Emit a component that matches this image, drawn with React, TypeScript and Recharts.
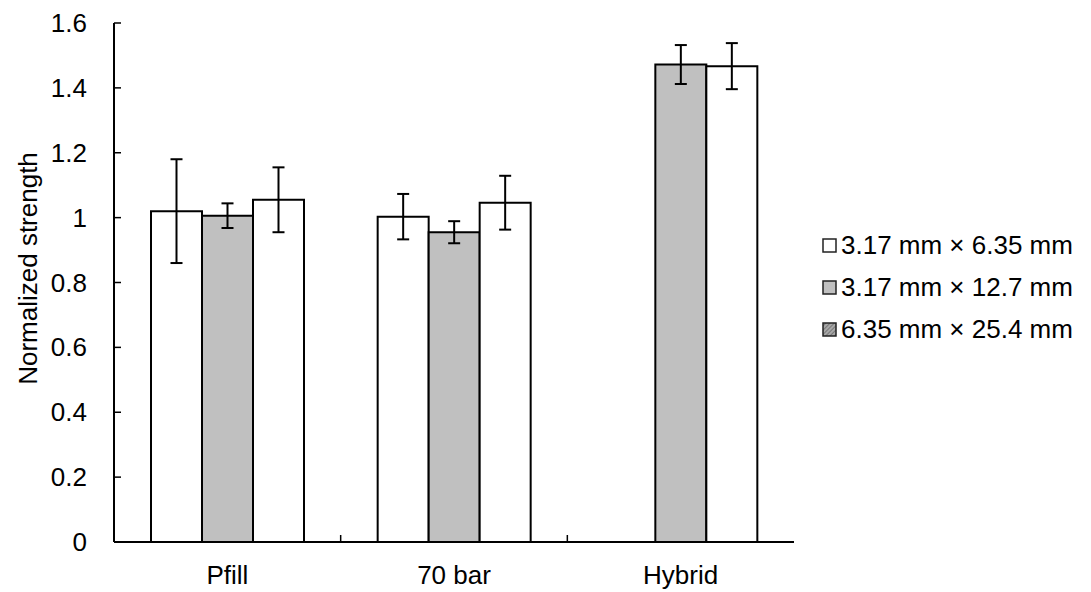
import React from 'react';
import {
  BarChart,
  Bar,
  XAxis,
  YAxis,
  ErrorBar,
  Legend,
} from 'recharts';

const categories = ['Pfill', '70 bar', 'Hybrid'];
const seriesNames = ['3.17 mm × 6.35 mm', '3.17 mm × 12.7 mm', '6.35 mm × 25.4 mm'];
const small = [1.02, 1.003, null];
const smallErr = [0.16, 0.07, null];
const medium = [1.006, 0.955, 1.472];
const mediumErr = [0.038, 0.034, 0.06];
const large = [1.055, 1.046, 1.467];
const largeErr = [0.1, 0.083, 0.071];
const yTicks = [0, 0.2, 0.4, 0.6, 0.8, 1, 1.2, 1.4, 1.6];

const data = categories.map((name, i) => ({
  name,
  small: small[i],
  smallErr: smallErr[i],
  medium: medium[i],
  mediumErr: mediumErr[i],
  large: large[i],
  largeErr: largeErr[i],
}));

const WIDTH = 1091;
const HEIGHT = 592;
const PLOT_LEFT = 114;
const PLOT_RIGHT = 794;
const BAND = (PLOT_RIGHT - PLOT_LEFT) / categories.length;
const FONT = 'Liberation Sans, Arial, sans-serif';
const FS = 26;

const YTick = (props: any) => {
  const { x, y, payload } = props;
  return (
    <g>
      <line x1={x} y1={y} x2={x + 7} y2={y} stroke="#000" strokeWidth={1.5} />
      <text
        x={x - 27}
        y={y}
        textAnchor="end"
        dominantBaseline="central"
        fontSize={FS}
        fontFamily={FONT}
        fill="#000"
      >
        {payload.value}
      </text>
    </g>
  );
};

const XTick = (props: any) => {
  const { x, y, payload, index } = props;
  const edge = x + BAND / 2;
  return (
    <g>
      {index < categories.length - 1 && (
        <line x1={edge} y1={y} x2={edge} y2={y - 7} stroke="#000" strokeWidth={1.5} />
      )}
      <text
        x={x}
        y={y + 42}
        textAnchor="middle"
        fontSize={FS}
        fontFamily={FONT}
        fill="#000"
      >
        {payload.value}
      </text>
    </g>
  );
};

const YTitle = (props: any) => {
  const { viewBox } = props;
  const cx = 28;
  const cy = viewBox.y + viewBox.height / 2 - 14;
  return (
    <text
      x={cx}
      y={cy}
      transform={`rotate(-90, ${cx}, ${cy})`}
      textAnchor="middle"
      dominantBaseline="central"
      fontSize={FS}
      fontFamily={FONT}
      fill="#000"
    >
      Normalized strength
    </text>
  );
};

const swatchFills = ['#ffffff', '#c0c0c0', 'url(#hatch)'];

const LegendContent = () => (
  <div style={{ fontFamily: FONT, fontSize: FS, color: '#000', lineHeight: 1 }}>
    {seriesNames.map((n, i) => (
      <div key={n} style={{ display: 'flex', alignItems: 'center', height: 42 }}>
        <svg width={15} height={15} style={{ marginRight: 4 }}>
          <defs>
            <pattern id="hatch" width="3" height="3" patternUnits="userSpaceOnUse" patternTransform="rotate(45)">
              <rect width="3" height="3" fill="#a8a8a8" />
              <line x1="0" y1="0" x2="0" y2="3" stroke="#555" strokeWidth="1.2" />
            </pattern>
          </defs>
          <rect x={1} y={1} width={13} height={13} fill={swatchFills[i]} stroke="#222" strokeWidth={1.5} />
        </svg>
        <span>{n}</span>
      </div>
    ))}
  </div>
);

export default function App() {
  return (
    <div style={{ position: 'absolute', left: 0, top: 0, width: WIDTH, height: HEIGHT, background: '#fff' }}>
      <BarChart
        width={WIDTH}
        height={HEIGHT}
        data={data}
        margin={{ top: 23, right: WIDTH - PLOT_RIGHT, bottom: 0, left: 0 }}
        barGap={0}
        barCategoryGap={37}
      >
        <XAxis
          dataKey="name"
          height={50}
          tickLine={false}
          tickSize={0}
          tickMargin={0}
          tick={<XTick />}
          axisLine={{ stroke: '#000', strokeWidth: 2 }}
          interval={0}
        />
        <XAxis
          xAxisId="top"
          dataKey="name"
          orientation="top"
          height={0}
          tick={false}
          tickLine={false}
          axisLine={{ stroke: '#000', strokeWidth: 2 }}
        />
        <YAxis
          width={PLOT_LEFT}
          domain={[0, 1.6]}
          ticks={yTicks}
          interval={0}
          tickLine={false}
          tickSize={0}
          tickMargin={0}
          tick={<YTick />}
          axisLine={{ stroke: '#000', strokeWidth: 2 }}
          label={<YTitle />}
        />
        <YAxis
          yAxisId="right"
          orientation="right"
          width={0}
          domain={[0, 1.6]}
          tick={false}
          tickLine={false}
          axisLine={{ stroke: '#000', strokeWidth: 2 }}
        />
        <Legend
          layout="horizontal"
          align="center"
          verticalAlign="middle"
          content={<LegendContent />}
          wrapperStyle={{ position: 'absolute', left: 822, top: 224, width: 269 }}
        />
        <Bar dataKey="small" name={seriesNames[0]} fill="#ffffff" stroke="#000" strokeWidth={2} isAnimationActive={false}>
          <ErrorBar dataKey="smallErr" width={6} stroke="#000" strokeWidth={2} />
        </Bar>
        <Bar dataKey="medium" name={seriesNames[1]} fill="#c0c0c0" stroke="#000" strokeWidth={2} isAnimationActive={false}>
          <ErrorBar dataKey="mediumErr" width={6} stroke="#000" strokeWidth={2} />
        </Bar>
        <Bar dataKey="large" name={seriesNames[2]} fill="#ffffff" stroke="#000" strokeWidth={2} isAnimationActive={false}>
          <ErrorBar dataKey="largeErr" width={6} stroke="#000" strokeWidth={2} />
        </Bar>
      </BarChart>
    </div>
  );
}
